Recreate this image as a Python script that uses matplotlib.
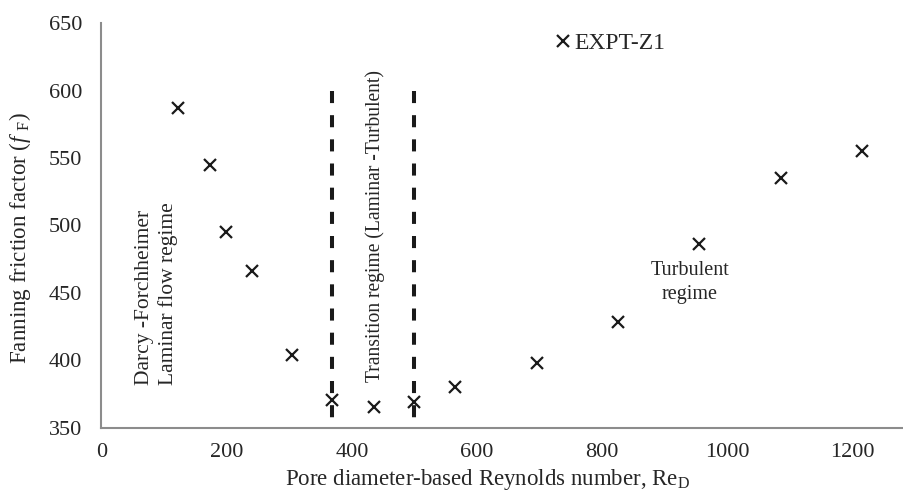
import matplotlib
matplotlib.use('Agg')
import matplotlib.pyplot as plt

# data
re_d = [122, 173, 199, 241, 304, 369, 435, 499, 565, 695, 825, 955, 1085, 1215]
f_f = [587, 545, 495, 466, 404, 370.5, 365.5, 369, 380, 398, 428.5, 486.5, 535, 555]
regime_bounds = [369, 499]
bound_top = 600

plt.rcParams['font.family'] = ['Liberation Serif', 'DejaVu Serif']
plt.rcParams['mathtext.fontset'] = 'custom'
plt.rcParams['mathtext.rm'] = 'Liberation Serif'
plt.rcParams['mathtext.it'] = 'Liberation Serif:italic'

txt = '#262626'
fig = plt.figure(figsize=(9.04, 4.96), dpi=100)
ax = fig.add_axes([101.5 / 904, 1 - 427.7 / 496, 1 - 101.5 / 904, (427.7 - 23.3) / 496])

ax.plot(re_d, f_f, linestyle='none', marker='x', markersize=9, markeredgewidth=1.6,
        color='#1a1a1a', label='EXPT-Z1', zorder=3)
# regime boundaries, dashes start at the top
for xb in regime_bounds:
    ax.plot([xb, xb], [bound_top, 350], color='#1a1a1a', linewidth=2.9,
            linestyle=(0, (3, 3)), zorder=2)

ax.set_xlim(0, 1282)
ax.set_ylim(350, 650)
ax.set_xticks(range(0, 1201, 200))
ax.set_yticks(range(350, 651, 50))
ax.tick_params(length=0, labelsize=16, labelcolor=txt)
ax.tick_params(axis='y', pad=14)
ax.tick_params(axis='x', pad=11)
for s in ['top', 'right']:
    ax.spines[s].set_visible(False)
for s in ['left', 'bottom']:
    ax.spines[s].set_color('#8c8c8c')
    ax.spines[s].set_linewidth(1.5)

ax.set_xlabel(r'Pore diameter-based Reynolds number, Re$_{\mathrm{D}}$', fontsize=16.5,
              color=txt)
ax.xaxis.set_label_coords(0.4816, -0.097)
ax.set_ylabel(r'Fanning friction factor ($\mathit{f}$ $_{\mathrm{F}}$)', fontsize=16.6,
              color=txt)
ax.yaxis.set_label_coords(-0.0854, 0.47)

ax.text(88, 381.5, 'Darcy -Forchheimer\nLaminar flow regime', rotation=90, ha='center',
        va='bottom', multialignment='left', fontsize=15.5, color=txt, linespacing=1.3)
ax.text(437, 384, 'Transition regime (Laminar -Turbulent)', rotation=90, ha='center',
        va='bottom', fontsize=14.1, color=txt)
ax.text(940, 458, 'Turbulent\nregime', ha='center', va='center', multialignment='center',
        fontsize=14.5, color=txt, linespacing=1.36)

ax.legend(loc='center', bbox_to_anchor=(0.675, 0.913), bbox_transform=fig.transFigure,
          frameon=False, handlelength=0.7, handletextpad=0.15, borderpad=0,
          fontsize=17, labelcolor=txt)

fig.savefig('out.png', dpi=100)
